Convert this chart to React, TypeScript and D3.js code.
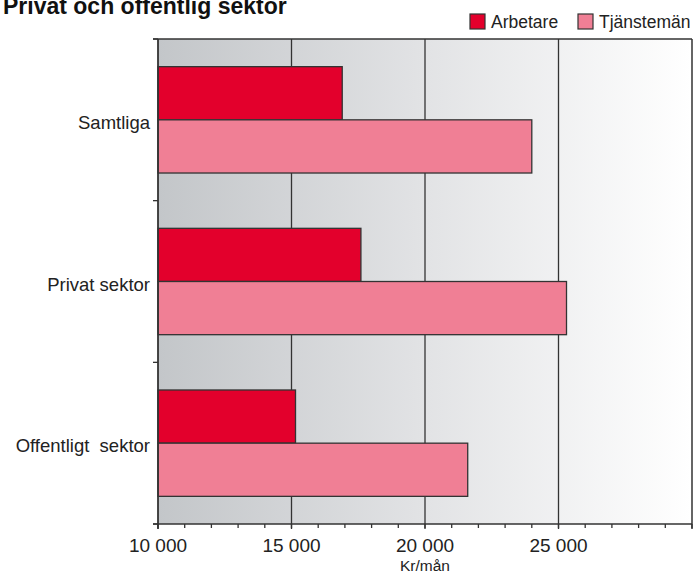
import React from "react";
import * as d3 from "d3";

const categories = ["Samtliga", "Privat sektor", "Offentligt  sektor"];
const series = ["Arbetare", "Tjänstemän"];
const arbetare = [16900, 17600, 15150];
const tjansteman = [24000, 25300, 21600];
const majorTicks = [10000, 15000, 20000, 25000];
const colors = ["#e3002c", "#f07f95"];

const W = 694, H = 573;
const M = { left: 158, right: 692, top: 39, bottom: 524 };

export default function App() {
  const x = d3.scaleLinear().domain([10000, 30000]).range([M.left, M.right]);
  const y = d3.scaleBand<string>().domain(categories).range([M.top, M.bottom]).paddingInner(0).paddingOuter(0);
  const inner = d3.scaleBand<string>().domain(series).range([0, y.bandwidth()]).paddingInner(0).paddingOuter(0.52);
  const minor = d3.range(10000, 30001, 1000);
  const fmt = (v: number) => d3.format(",")(v).replace(",", " ");
  const vals = [arbetare, tjansteman];
  const bounds = [...categories.map((c) => y(c)!), M.bottom];
  const legendX = [470, 578];

  return (
    <div style={{ position: "absolute", left: 0, top: 0 }}>
      <svg width={W} height={H} style={{ display: "block", fontFamily: "Liberation Sans, Arial, sans-serif" }}>
        <defs>
          <linearGradient id="bg" x1="0" x2="1" y1="0" y2="0">
            <stop offset="0" stopColor="#c3c6c9" />
            <stop offset="0.5" stopColor="#e2e3e5" />
            <stop offset="1" stopColor="#ffffff" />
          </linearGradient>
        </defs>
        <rect x={M.left} y={M.top} width={M.right - M.left} height={M.bottom - M.top} fill="url(#bg)" />
        {majorTicks.slice(1).map((t) => (
          <line key={t} x1={x(t)} x2={x(t)} y1={M.top} y2={M.bottom + 5} stroke="#333" strokeWidth={1.3} />
        ))}
        {categories.map((c, i) =>
          series.map((s, j) => (
            <rect
              key={c + s}
              x={x(10000)}
              y={y(c)! + inner(s)!}
              width={x(vals[j][i]) - x(10000)}
              height={inner.bandwidth()}
              fill={colors[j]}
              stroke="#333"
              strokeWidth={1.3}
            />
          ))
        )}
        <line x1={M.left - 5} x2={M.right} y1={M.top} y2={M.top} stroke="#333" strokeWidth={1.3} />
        <line x1={M.left - 5} x2={M.right} y1={M.bottom} y2={M.bottom} stroke="#333" strokeWidth={1.5} />
        <line x1={M.left} x2={M.left} y1={M.top} y2={M.bottom + 5} stroke="#333" strokeWidth={1.8} />
        <line x1={M.right} x2={M.right} y1={M.top} y2={M.bottom + 5} stroke="#333" strokeWidth={1.5} />
        {bounds.map((b, i) => (
          <line key={i} x1={M.left - 5} x2={M.left} y1={b} y2={b} stroke="#333" strokeWidth={1.3} />
        ))}
        {minor.map((t) => (
          <line key={t} x1={x(t)} x2={x(t)} y1={M.bottom} y2={M.bottom + 4} stroke="#333" strokeWidth={1.3} />
        ))}
        {majorTicks.map((t) => (
          <text key={t} x={x(t)} y={552} textAnchor="middle" fontSize={19} fill="#222">
            {fmt(t)}
          </text>
        ))}
        <text x={x(20000)} y={571} textAnchor="middle" fontSize={15.5} fill="#222">Kr/mån</text>
        {categories.map((c) => (
          <text key={c} x={150} y={y(c)! + y.bandwidth() / 2 + 9} textAnchor="end" fontSize={18.5} fill="#222" style={{ whiteSpace: "pre" }}>
            {c}
          </text>
        ))}
        <text x={3} y={14} fontSize={23} fontWeight="bold" fill="#111">
          Privat och offentlig sektor
        </text>
        {series.map((s, j) => (
          <g key={s}>
            <rect x={legendX[j]} y={14} width={15} height={15} fill={colors[j]} stroke="#333" strokeWidth={1.2} />
            <text x={legendX[j] + 21} y={28} fontSize={17.5} fill="#222">{s}</text>
          </g>
        ))}
      </svg>
    </div>
  );
}
